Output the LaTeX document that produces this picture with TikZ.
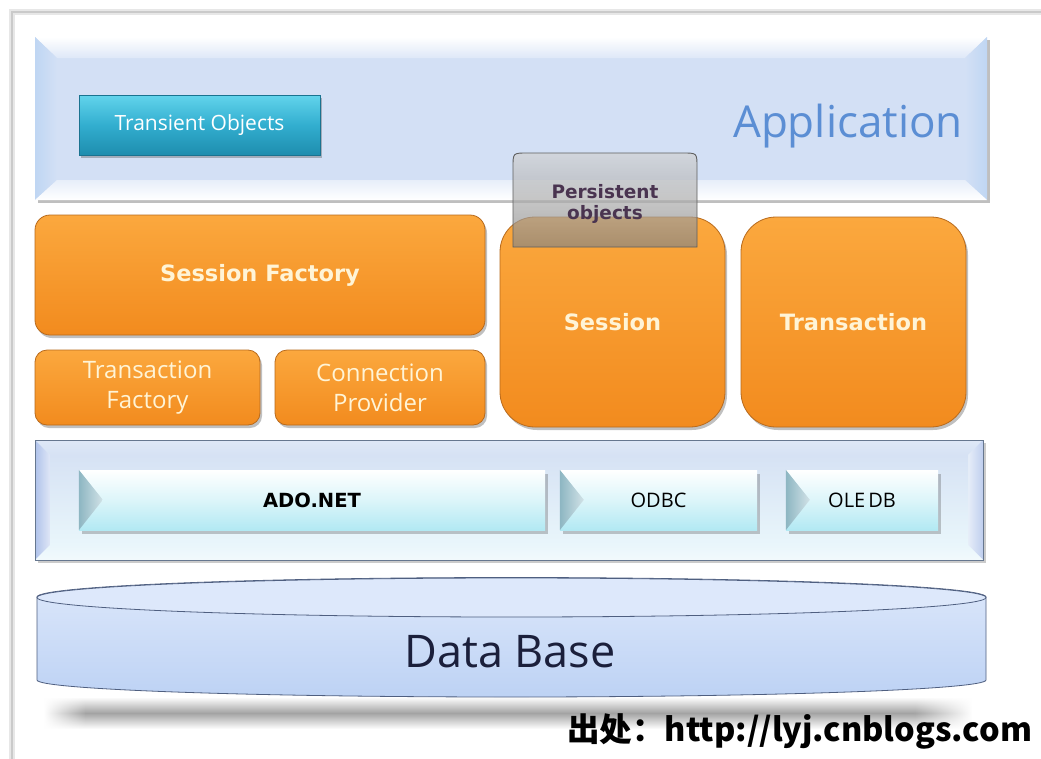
\documentclass[tikz,border=0pt]{standalone}
\usepackage{fontspec}
\setmainfont{Open Sans}
\newfontfamily\heavy{DejaVu Sans}
\newfontfamily\cjk{Noto Sans CJK SC}
\usetikzlibrary{shadows,fadings}

\definecolor{frameg}{HTML}{C4C4C4}
\definecolor{appfill}{HTML}{D3E0F5}
\definecolor{appside}{HTML}{BFD6F3}
\definecolor{apptext}{HTML}{5B8ED4}
\definecolor{orangetop}{HTML}{FBA83E}
\definecolor{orangebot}{HTML}{F28B1E}
\definecolor{orangeedge}{HTML}{B86A1C}
\definecolor{creamtext}{HTML}{FFF4D6}
\definecolor{tealtop}{HTML}{62D4EC}
\definecolor{tealmid}{HTML}{32AECF}
\definecolor{tealbot}{HTML}{1E8DAE}
\definecolor{tealedge}{HTML}{1A7390}
\definecolor{persfill}{HTML}{9C9C9C}
\definecolor{persedge}{HTML}{5E5E5E}
\definecolor{perstext}{HTML}{4A3450}
\definecolor{drvedge}{HTML}{66778F}
\definecolor{drvtop}{HTML}{D6E2F4}
\definecolor{drvside}{HTML}{AFC2EA}
\definecolor{drvin}{HTML}{E0ECF9}
\definecolor{drvlow}{HTML}{E9F6FB}
\definecolor{btnbot}{HTML}{B2E9F3}
\definecolor{btnbevel}{HTML}{8DB6C2}
\definecolor{dbtop}{HTML}{DDE8FB}
\definecolor{dbbot}{HTML}{BDD2F4}
\definecolor{dbedge}{HTML}{4F5F80}
\definecolor{dbtext}{HTML}{1B1F3B}

\tikzset{
  softshadow/.style={drop shadow={shadow xshift=2pt, shadow yshift=-3pt, opacity=0.35, fill=black!70}},
  orangebox/.style={draw=orangeedge, line width=0.8pt, top color=orangetop, bottom color=orangebot,
    softshadow, inner sep=0pt, align=center, text=creamtext},
  boldlabel/.style={font=\heavy\bfseries\fontsize{22.5}{26}\selectfont},
  plainlabel/.style={font=\fontsize{24}{30}\selectfont},
  tealbtn/.style={draw=tealedge, line width=0.8pt, top color=tealtop, bottom color=tealbot, middle color=tealmid,
    softshadow, inner sep=0pt, text=white, font=\fontsize{21}{24}\selectfont},
  drvbtn/.style={draw=none, top color=white, bottom color=btnbot, middle color=white!55!btnbot,
    drop shadow={shadow xshift=3pt, shadow yshift=-4pt, opacity=0.3, fill=black!70}, inner sep=0pt, text=black},
  floorshade/.style={top color=white, bottom color=white, middle color=black!36}
}

\begin{document}
\begin{tikzpicture}[x=1pt,y=-1pt]
\useasboundingbox (0,0) rectangle (1041,758);
\fill[white] (0,0) rectangle (1041,758);

% page frame
\begin{scope}
  \clip (0,0) rectangle (1041,758);
  \draw[frameg!40, line width=6pt] (12,12) rectangle (1090,800);
  \draw[frameg!90, line width=2.5pt] (12,12) rectangle (1090,800);
\end{scope}

% ---------- application layer (bevelled panel) ----------
\fill[black!45, opacity=.55] (38,40) rectangle (990,203);
\fill[appfill] (35,37) rectangle (987,200);
\shade[top color=white, bottom color=appfill!75!white] (35,37) -- (987,37) -- (965,58) -- (57,58) -- cycle;
\shade[left color=appside, right color=appfill] (35,37) -- (57,58) -- (57,180) -- (35,200) -- cycle;
\shade[left color=appfill, right color=appside] (987,37) -- (965,58) -- (965,180) -- (987,200) -- cycle;
\shade[top color=appfill!55!white, bottom color=white] (35,200) -- (57,180) -- (965,180) -- (987,200) -- cycle;
\node[text=apptext, font=\fontsize{44}{50}\selectfont, anchor=base] (apptitle) at (848,137) {Application};

\node[tealbtn, minimum width=241pt, minimum height=60pt] (transient) at (199.5,125) {Transient Objects};

% ---------- hibernate core ----------
\node[orangebox, rounded corners=15pt, minimum width=450pt, minimum height=120pt, boldlabel] (sfactory) at (260,275) {Session Factory};
\node[orangebox, rounded corners=12pt, minimum width=225pt, minimum height=75pt, plainlabel] (tfactory) at (147.5,387.5) {Transaction\\Factory};
\node[orangebox, rounded corners=12pt, minimum width=210pt, minimum height=75pt, plainlabel] (cprovider) at (380,387.5) {Connection\\Provider};
\node[orangebox, rounded corners=35pt, minimum width=225pt, minimum height=210pt, boldlabel] (session) at (612.5,322) {Session};
\node[orangebox, rounded corners=35pt, minimum width=225pt, minimum height=210pt, boldlabel] (transaction) at (853.5,322) {Transaction};

% persistent objects, translucent over both layers
\shade[top color=black!18, bottom color=persfill!85!black, opacity=.68] (513,247) -- (513,167) .. controls (513,153) .. (527,153) -- (683,153) .. controls (697,153) .. (697,167) -- (697,247) -- cycle;
\draw[persedge, line width=0.9pt] (513,247) -- (513,167) .. controls (513,153) .. (527,153) -- (683,153) .. controls (697,153) .. (697,167) -- (697,247) -- cycle;
\node[text=perstext, font=\heavy\bfseries\fontsize{18.5}{21}\selectfont, align=center] (persist) at (605,204) {Persistent\\objects};

% ---------- driver layer (bevelled panel) ----------
\fill[black!40, opacity=.5] (38,443) rectangle (986,563);
\fill[drvin] (35,440) rectangle (983,560);
\shade[top color=drvtop!80!white, bottom color=drvtop] (35,440) -- (983,440) -- (968,455) -- (50,455) -- cycle;
\shade[left color=drvside, right color=drvside!40!white] (35,440) -- (50,455) -- (50,545) -- (35,560) -- cycle;
\shade[left color=drvtop!60!white, right color=drvside!80!white] (983,440) -- (968,455) -- (968,545) -- (983,560) -- cycle;
\shade[top color=drvlow, bottom color=drvlow!60!white] (35,560) -- (50,545) -- (968,545) -- (983,560) -- cycle;
\shade[top color=drvtop, bottom color=drvlow] (50,455) rectangle (968,545);
\draw[drvedge, line width=1pt] (35,440) rectangle (983,560);

\node[drvbtn, minimum width=466pt, minimum height=60pt, font=\heavy\bfseries\fontsize{19.5}{22}\selectfont] (ado) at (312,500) {ADO.NET};
\node[drvbtn, minimum width=197pt, minimum height=60pt, font=\fontsize{20}{22}\selectfont] (odbc) at (658.5,500) {ODBC};
\node[drvbtn, minimum width=152pt, minimum height=60pt, font=\fontsize{20}{22}\selectfont] (oledb) at (862,500) {OLE\kern3pt DB};
\foreach \b in {ado,odbc,oledb}{
  \shade[left color=btnbevel, right color=btnbevel!40!white] (\b.north west) -- ([xshift=24pt,yshift=-30pt]\b.north west) -- (\b.south west) -- cycle;
}

% ---------- database cylinder ----------
% floor shadow: uniform band with faded ends
\shade[floorshade] (85,697) rectangle (915,729);
\shade[floorshade, path fading=west] (44,697) rectangle (85.5,729);
\shade[floorshade, path fading=east] (914.5,697) rectangle (972,729);
\shade[top color=dbtop, bottom color=dbbot, draw=dbedge, line width=0.8pt]
  (37,597) -- (37,680) arc[start angle=180, end angle=0, x radius=474.5, y radius=17] -- (986,597)
  arc[start angle=0, end angle=-180, x radius=474.5, y radius=19.5] -- cycle;
\draw[dbedge, line width=0.8pt, fill=dbtop] (511.5,597.5) ellipse[x radius=474.5, y radius=19.5];
\node[text=dbtext, font=\fontsize{45}{50}\selectfont] (db) at (510,652) {Data Base};

% ---------- source note ----------
\node[anchor=base west, inner sep=0pt, font=\cjk\bfseries\fontsize{32.5}{36}\selectfont] (src) at (567,741) {出处：http://lyj.cnblogs.com};
\end{tikzpicture}
\end{document}
